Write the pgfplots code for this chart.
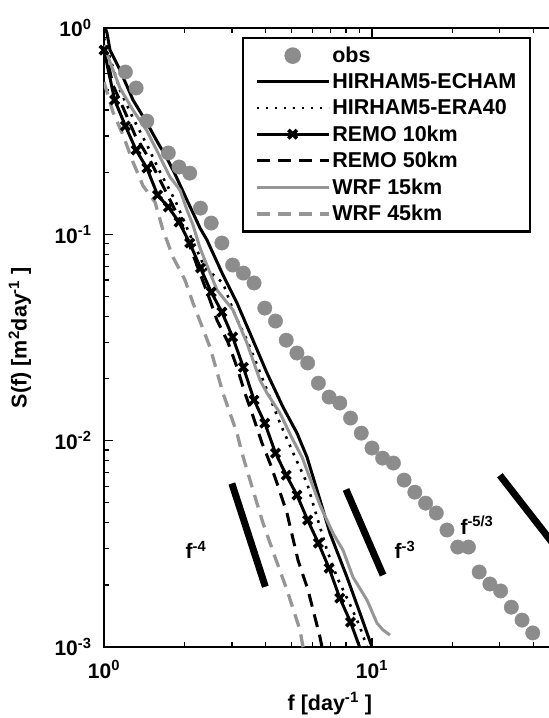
\documentclass[border=0pt]{standalone}
\usepackage{fontspec}
\setmainfont{Liberation Sans}
\usepackage{pgfplots}
\pgfplotsset{compat=1.18}
\definecolor{obsgray}{RGB}{140,140,140}
\definecolor{lgray}{RGB}{150,150,150}
\newcommand{\bigf}{\fontsize{21.5}{25}\selectfont\bfseries}
\newcommand{\tickf}{\fontsize{21}{24}\selectfont\bfseries}
\newcommand{\labf}{\fontsize{21.5}{24}\selectfont\bfseries}
\begin{document}
\begin{tikzpicture}
\path[use as bounding box] (0,0) rectangle (549pt,718pt);
\begin{axis}[
  at={(104pt,71pt)}, anchor=south west,
  scale only axis, width=455.3pt, height=619pt,
  xmode=log, ymode=log,
  xmin=1, xmax=50, ymin=1e-3, ymax=1,
  axis line style={line width=2pt},
  tick style={black, line width=1.3pt},
  major tick length=9pt, minor tick length=5pt,
  xtick={1,10}, xticklabels={10\textsuperscript{0},10\textsuperscript{1}},
  minor xtick={2,3,4,5,6,7,8,9,20,30,40,50},
  ytick={0.001,0.01,0.1,1},
  yticklabels={10\textsuperscript{-3},10\textsuperscript{-2},10\textsuperscript{-1},10\textsuperscript{0}},
  minor ytick={0.002,0.003,0.004,0.005,0.006,0.007,0.008,0.009,0.02,0.03,0.04,0.05,0.06,0.07,0.08,0.09,0.2,0.3,0.4,0.5,0.6,0.7,0.8,0.9},
  tick label style={font=\tickf},
  yticklabel style={xshift=-9pt},
  xticklabel style={yshift=-10pt},
  xlabel={f [day\textsuperscript{-1} ]},
  ylabel={S(f) [m\textsuperscript{2}day\textsuperscript{-1} ]},
  label style={font=\labf},
  xlabel style={at={(axis description cs:0.496,-0.091)}, anchor=center},
  ylabel style={at={(axis description cs:-0.185,0.5)}, anchor=center},
  legend style={at={(axis description cs:0.303,0.9855)}, anchor=north west,
    draw=black, line width=2.2pt, font=\bigf, inner xsep=12pt, inner ysep=7pt,
    row sep=5.5pt, cells={anchor=west}, /tikz/column 2/.style={column sep=9pt}},
  legend image code/.code={\draw[mark repeat=2,mark phase=2,#1] plot coordinates {(0pt,0pt) (36pt,0pt) (72pt,0pt)};},
]
% obs
\addplot[only marks, mark=*, mark size=7.2pt, obsgray] coordinates {
(1.202,0.612) (1.318,0.512) (1.445,0.354) (1.738,0.248) (1.905,0.212) (2.089,0.198)
(2.291,0.134) (2.512,0.1134) (2.754,0.0908) (3.020,0.0710) (3.311,0.0649) (3.631,0.0581)
(3.981,0.0439) (4.365,0.0380) (4.786,0.0307) (5.248,0.0266) (5.754,0.0238) (6.310,0.0190)
(6.918,0.01627) (7.586,0.01522) (8.318,0.01287) (9.120,0.01088) (10.00,0.00921) (10.96,0.00823)
(12.02,0.00779) (13.18,0.00644) (14.45,0.00563) (15.85,0.00498) (17.38,0.00446) (19.05,0.00369)
(20.89,0.00305) (22.91,0.00305) (25.12,0.00231) (27.54,0.00202) (30.20,0.00187) (33.11,0.00156)
(36.31,0.00135) (39.81,0.00117)
};
\addlegendentry{obs}
% HIRHAM5-ECHAM
\addplot[black, line width=3pt] coordinates {
(1.000,1.046) (1.026,0.946) (1.053,0.782) (1.147,0.626) (1.283,0.448) (1.447,0.346)
(1.591,0.277) (1.718,0.234) (1.840,0.196) (2.040,0.1467) (2.282,0.1073) (2.423,0.0938)
(2.780,0.0635) (3.135,0.0465) (3.506,0.0332) (4.057,0.02127) (4.655,0.01455) (5.250,0.01088)
(5.721,0.00833) (6.236,0.00576) (6.970,0.00356) (8.068,0.00218) (9.020,0.00146) (10.00,0.00100)
(10.35,0.000864)
};
\addlegendentry{HIRHAM5-ECHAM}
% HIRHAM5-ERA40
\addplot[black, line width=2.6pt, dash pattern=on 2.6pt off 6.4pt] coordinates {
(1.000,0.894) (1.053,0.716) (1.147,0.500) (1.283,0.366) (1.447,0.271) (1.618,0.2005)
(1.840,0.1467) (2.094,0.0992) (2.382,0.0687) (2.780,0.0581) (3.082,0.0406) (3.416,0.0307)
(3.754,0.0227) (4.057,0.0176) (4.536,0.01217) (5.161,0.00833) (5.721,0.00623) (6.236,0.00426)
(6.793,0.00295) (7.402,0.00218) (8.136,0.00169) (9.020,0.00125) (9.579,0.00100) (10.00,0.000845)
};
\addlegendentry{HIRHAM5-ERA40}
% REMO 10km
\addplot[black, line width=3pt, mark=x, mark size=6pt, mark options={solid, line width=3.6pt}] coordinates {
(1.000,0.782) (1.096,0.448) (1.202,0.335) (1.318,0.256) (1.445,0.2096) (1.585,0.155)
(1.738,0.1356) (1.905,0.1147) (2.089,0.0908) (2.291,0.0687) (2.512,0.0525) (2.754,0.0420)
(3.020,0.0318) (3.311,0.0227) (3.631,0.01573) (3.981,0.01217) (4.365,0.00871) (4.786,0.00681)
(5.248,0.00545) (5.754,0.00412) (6.310,0.00319) (6.918,0.00241) (7.586,0.001726) (8.318,0.00132)
(9.120,0.00095)
};
\addlegendentry{REMO 10km}
% REMO 50km
\addplot[black, line width=3pt, dash pattern=on 13pt off 8pt] coordinates {
(1.000,0.827) (1.080,0.529) (1.198,0.3915) (1.305,0.303) (1.484,0.229) (1.689,0.164)
(1.921,0.1173) (2.186,0.0751) (2.486,0.048) (2.640,0.0384) (2.901,0.0300) (3.135,0.0227)
(3.358,0.0170) (3.597,0.01316) (3.887,0.00974) (4.163,0.00779) (4.421,0.00623) (4.817,0.00446)
(5.295,0.00264) (5.771,0.00189) (6.397,0.001117) (6.508,0.00100) (6.621,0.000903)
};
\addlegendentry{REMO 50km}
% WRF 15km
\addplot[lgray, line width=3pt] coordinates {
(1.000,0.827) (1.053,0.684) (1.147,0.512) (1.283,0.400) (1.447,0.317) (1.591,0.248)
(1.763,0.1896) (1.921,0.164) (2.040,0.1312) (2.148,0.111) (2.282,0.0858) (2.640,0.0537)
(3.029,0.0430) (3.416,0.0297) (3.820,0.01966) (4.057,0.0170) (4.536,0.01361) (5.072,0.01007)
(5.482,0.00833) (6.397,0.00487) (7.152,0.00356) (7.795,0.00295) (8.494,0.00218) (9.579,0.00169)
(10.44,0.001305) (10.99,0.00121) (11.67,0.001142)
};
\addlegendentry{WRF 15km}
% WRF 45km
\addplot[lgray, line width=3.3pt, dash pattern=on 13pt off 8pt] coordinates {
(1.000,0.547) (1.080,0.3915) (1.177,0.303) (1.283,0.224) (1.398,0.172) (1.550,0.1434)
(1.660,0.1049) (1.809,0.0776) (2.005,0.0601) (2.148,0.0465) (2.486,0.0284) (2.780,0.0170)
(3.135,0.01088) (3.273,0.00871) (3.597,0.00576) (3.921,0.00399) (4.346,0.00273) (4.817,0.00189)
(5.386,0.00121) (5.527,0.00100) (5.623,0.000914)
};
\addlegendentry{WRF 45km}
% reference slopes
\addplot[black, line width=7pt, forget plot] coordinates {(3,0.0062) (4,0.00196)};
\addplot[black, line width=7pt, forget plot] coordinates {(8,0.0058) (11,0.00223)};
\addplot[black, line width=7pt, forget plot] coordinates {(30,0.0068) (60,0.00214)};
\node[font=\tickf] at (axis cs:2.204,0.00295) {f\textsuperscript{-4}};
\node[font=\tickf] at (axis cs:13.28,0.00295) {f\textsuperscript{-3}};
\node[font=\tickf] at (axis cs:24.65,0.0039) {f\textsuperscript{-5/3}};
\end{axis}
\end{tikzpicture}
\end{document}
